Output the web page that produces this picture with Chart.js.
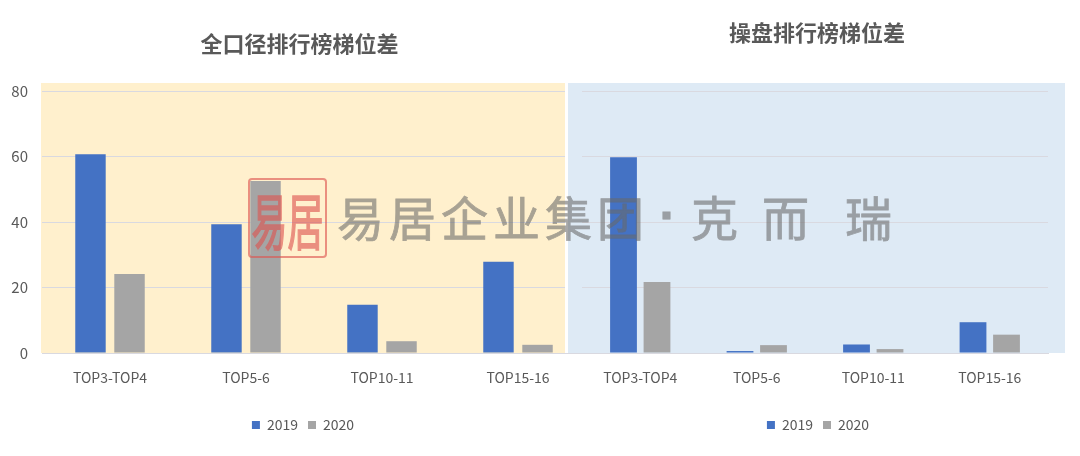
<!DOCTYPE html>
<html>
<head>
<meta charset="utf-8">
<style>
    html, body { margin: 0; padding: 0; background: #fff; }
    #page { position: relative; width: 1080px; height: 456px; overflow: hidden; font-family: "Noto Sans CJK SC", sans-serif; }
    .panel { position: absolute; top: 83px; height: 270px; }
    #panel-left { left: 41px; width: 524px; background: #fff0cd; }
    #panel-right { left: 565px; width: 497px; background: #deeaf5; border-left: 3px solid #fff; }
    .holder { position: absolute; top: 0; height: 456px; }
    #holder-left { left: 0; width: 604px; }
    #holder-right { left: 556px; width: 524px; }
    #seal { position: absolute; left: 248px; top: 178px; width: 75px; height: 76px; border: 2px solid #de5450; border-radius: 4px; color: #de5450; opacity: 0.62; display: flex; align-items: center; justify-content: center; font-size: 36px; line-height: 1; -webkit-text-stroke: 1px #de5450; }
    #seal span { display: block; transform: scaleY(1.7); }
    .mark { position: absolute; top: 183px; font-size: 47px; line-height: 66px; color: #696969; opacity: 0.58; white-space: nowrap; -webkit-text-stroke: 0.8px #696969; }
</style>
</head>
<body>
<div id="page">
    <div class="panel" id="panel-left"></div>
    <div class="holder" id="holder-left"><canvas id="leftChart"></canvas></div>
    <div class="panel" id="panel-right"></div>
    <div class="holder" id="holder-right"><canvas id="rightChart"></canvas></div>
    <div id="seal"><span>易</span><span>居</span></div>
    <div class="mark" style="left:337px;letter-spacing:5px">易居企业集团</div>
    <div class="mark" style="left:662px;font-size:9px">■</div>
    <div class="mark" style="left:691px">克</div>
    <div class="mark" style="left:762px">而</div>
    <div class="mark" style="left:845px">瑞</div>
</div>
<script src="https://cdn.jsdelivr.net/npm/chart.js@4"></script>
<script>
const categories = ["TOP3-TOP4", "TOP5-6", "TOP10-11", "TOP15-16"];
const seriesNames = ["2019", "2020"];
const leftValues2019 = [60.7, 39.3, 14.7, 27.9];
const leftValues2020 = [24.1, 52.5, 3.6, 2.5];
const rightValues2019 = [59.8, 0.6, 2.6, 9.4];
const rightValues2020 = [21.7, 2.4, 1.2, 5.6];
const yTicks = [0, 20, 40, 60, 80];

const BLUE = "#4472c4";
const GRAY = "#a5a5a5";
const TEXT = "#595959";
const GRID = "#d9d9e0";
const FONT = "'Noto Sans CJK SC', sans-serif";

Chart.defaults.animation = false;
Chart.defaults.devicePixelRatio = 1;

// Title and legend sit off-centre in the reference, so nudge them after layout
const nudgeBoxes = {
    id: "nudgeBoxes",
    afterLayout(chart, args, opts) {
        chart.titleBlock.left += opts.title;
        chart.titleBlock.right += opts.title;
        chart.legend.left += opts.legend;
        chart.legend.right += opts.legend;
    }
};

function buildChart(id, title, values2019, values2020, opts) {
    return new Chart(document.getElementById(id), {
        type: "bar",
        plugins: [nudgeBoxes],
        data: {
            labels: categories,
            datasets: [
                { label: seriesNames[0], data: values2019, backgroundColor: BLUE },
                { label: seriesNames[1], data: values2020, backgroundColor: GRAY }
            ]
        },
        options: {
            responsive: true,
            maintainAspectRatio: false,
            categoryPercentage: opts.categoryPercentage,
            barPercentage: opts.barPercentage,
            layout: { padding: { right: opts.paddingRight, bottom: 14 } },
            plugins: {
                nudgeBoxes: { title: opts.titleShift, legend: opts.legendShift },
                title: {
                    display: true,
                    text: title,
                    color: TEXT,
                    font: { family: FONT, size: 22, weight: "bold" },
                    padding: { top: opts.titleTop, bottom: opts.titleBottom }
                },
                legend: {
                    position: "bottom",
                    labels: {
                        color: TEXT,
                        boxWidth: 8,
                        boxHeight: 8,
                        padding: 10,
                        font: { family: FONT, size: 14 }
                    }
                },
                tooltip: { enabled: false }
            },
            scales: {
                x: {
                    grid: { display: false },
                    border: { color: GRID },
                    ticks: { color: TEXT, font: { family: FONT, size: 14 }, maxRotation: 0, autoSkip: false, padding: 8 },
                    afterFit: scale => { scale.height = 55; }
                },
                y: {
                    min: 0,
                    max: 80,
                    afterBuildTicks: scale => { scale.ticks = yTicks.map(v => ({ value: v })); },
                    grid: { color: GRID, drawTicks: false },
                    border: { display: false },
                    ticks: { display: opts.showYLabels, color: TEXT, font: { family: FONT, size: 15 }, padding: 14 },
                    afterFit: scale => { scale.width = opts.axisWidth; }
                }
            }
        }
    });
}

buildChart("leftChart", "全口径排行榜梯位差", leftValues2019, leftValues2020, {
    categoryPercentage: 0.574, barPercentage: 0.78,
    paddingRight: 18, axisWidth: 42, showYLabels: true,
    titleTop: 30.8, titleBottom: 33.8,
    titleShift: 6.5, legendShift: 10
});

buildChart("rightChart", "操盘排行榜梯位差", rightValues2019, rightValues2020, {
    categoryPercentage: 0.575, barPercentage: 0.8,
    paddingRight: 32, axisWidth: 26, showYLabels: false,
    titleTop: 19.3, titleBottom: 45.3,
    titleShift: 15, legendShift: 16
});
</script>
</body>
</html>
